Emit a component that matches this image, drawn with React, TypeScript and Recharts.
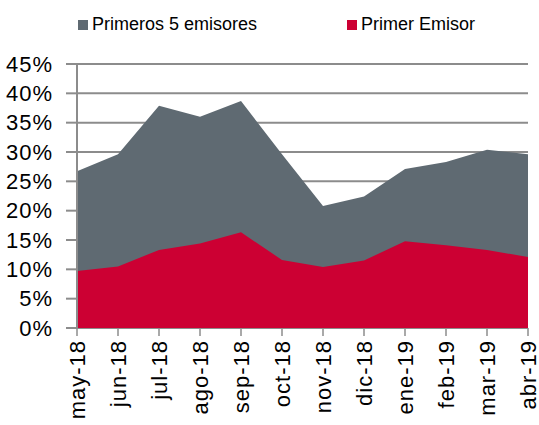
import { AreaChart, Area, XAxis, YAxis, CartesianGrid, Legend } from "recharts"

// monthly share of issuance
const months = ["may-18", "jun-18", "jul-18", "ago-18", "sep-18", "oct-18", "nov-18", "dic-18", "ene-19", "feb-19", "mar-19", "abr-19"]
const top5 = [26.7, 29.6, 37.9, 36.0, 38.7, 29.6, 20.8, 22.4, 27.1, 28.3, 30.4, 29.6]
const top1 = [9.7, 10.5, 13.3, 14.4, 16.3, 11.6, 10.4, 11.5, 14.8, 14.1, 13.3, 12.1]
const yTicks = [0, 5, 10, 15, 20, 25, 30, 35, 40, 45]

const data = months.map((m, i) => ({ month: m, top5: top5[i], top1: top1[i] }))

const GREY = "#5f6a72"
const RED = "#cc0033"
const AXIS = "#8c8c8c"
const FONT = "'Liberation Sans', Arial, sans-serif"

const MonthTick = (props: any) => {
  const { x, y, payload } = props
  return (
    <text
      x={x}
      y={y}
      transform={`rotate(-90 ${x} ${y})`}
      textAnchor="end"
      dy="0.36em"
      fontSize={22}
      letterSpacing={1}
      fontFamily={FONT}
      fill="#000"
    >
      {payload.value}
    </text>
  )
}

const renderLegend = () => (
  <div style={{ position: "relative", height: 54, fontFamily: FONT, fontSize: 18, color: "#000" }}>
    <div style={{ position: "absolute", left: 78, top: 4, display: "flex", alignItems: "center" }}>
      <span style={{ width: 10, height: 10, background: GREY, marginRight: 4 }} />
      <span>Primeros 5 emisores</span>
    </div>
    <div style={{ position: "absolute", left: 347, top: 4, display: "flex", alignItems: "center" }}>
      <span style={{ width: 10, height: 10, background: RED, marginRight: 4 }} />
      <span>Primer Emisor</span>
    </div>
  </div>
)

export default function App() {
  return (
    <div style={{ position: "absolute", left: 0, top: 0, background: "#fff" }}>
      <AreaChart width={539} height={425} data={data} margin={{ top: 10, right: 11, left: 0, bottom: 0 }}>
        <Legend verticalAlign="top" align="left" height={54} content={renderLegend} />
        <CartesianGrid vertical={false} stroke={AXIS} strokeWidth={2} />
        <XAxis
          dataKey="month"
          height={97}
          axisLine={false}
          tickLine={{ stroke: AXIS, strokeWidth: 1.5 }}
          tickSize={8}
          tickMargin={4}
          interval={0}
          tick={<MonthTick />}
        />
        <YAxis
          width={77}
          domain={[0, 45]}
          ticks={yTicks}
          interval={0}
          tickFormatter={(v) => `${v}%`}
          axisLine={{ stroke: AXIS, strokeWidth: 2 }}
          tickLine={{ stroke: AXIS, strokeWidth: 2 }}
          tickSize={11}
          tickMargin={13}
          tick={{ fontSize: 22, letterSpacing: 1, fontFamily: FONT, fill: "#000" }}
        />
        <Area type="linear" dataKey="top5" name="Primeros 5 emisores" stroke="none" fill={GREY} fillOpacity={1} isAnimationActive={false} />
        <Area type="linear" dataKey="top1" name="Primer Emisor" stroke="none" fill={RED} fillOpacity={1} isAnimationActive={false} />
      </AreaChart>
    </div>
  )
}
